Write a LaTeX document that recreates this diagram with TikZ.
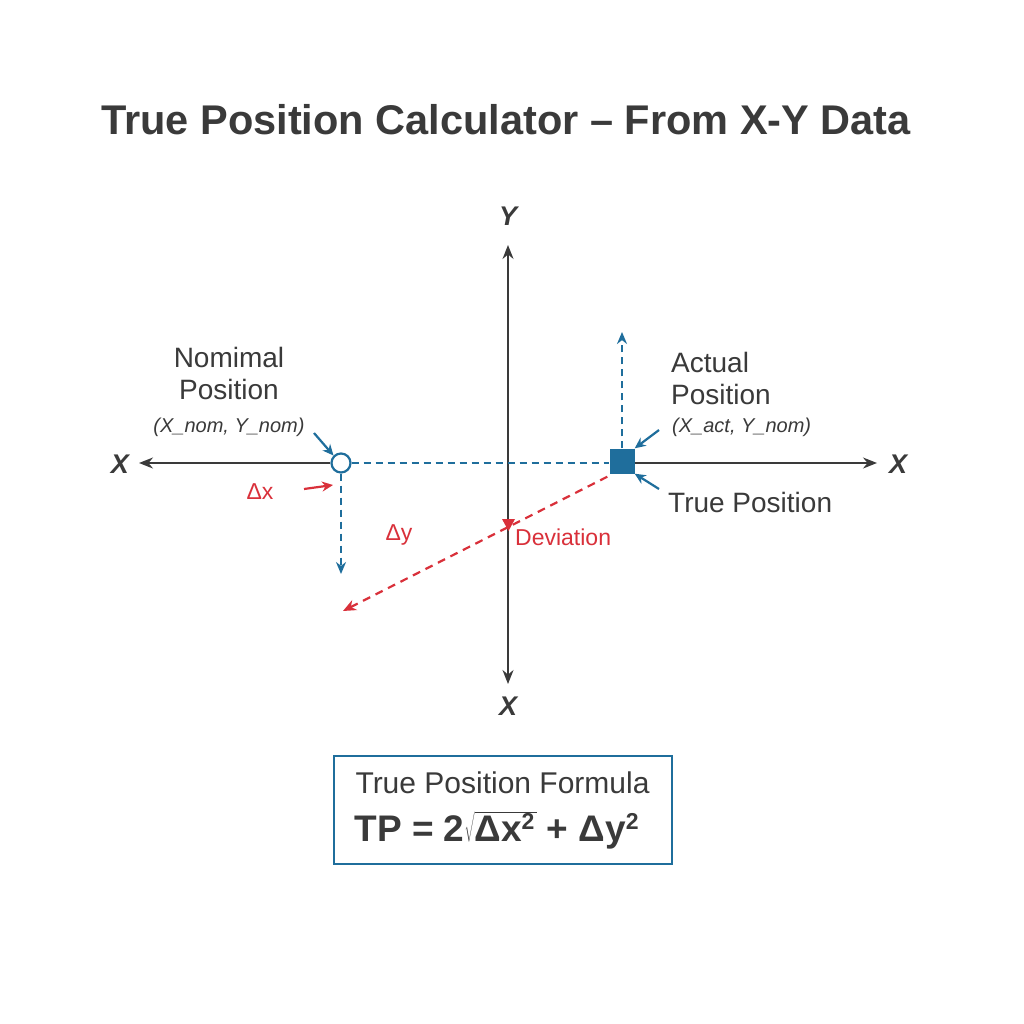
\documentclass[tikz,border=0pt]{standalone}
\usepackage{fontspec}
\setmainfont{Liberation Sans}
\usetikzlibrary{arrows.meta}
\definecolor{ink}{HTML}{3A3A3A}
\definecolor{tpblue}{HTML}{1F6E9C}
\definecolor{tpred}{HTML}{D9303A}
\newcommand{\fsz}[2]{\fontsize{#1}{#2}\selectfont}
\newcommand{\sqtwo}{\raisebox{12pt}{\fsz{23}{23}\bfseries 2}}
\tikzset{atip/.tip={Stealth[length=14pt,width=11pt]}}
\begin{document}
\begin{tikzpicture}[x=1pt,y=-1pt,
  axis/.style={draw=ink,line width=1.5pt},
  bdash/.style={draw=tpblue,line width=2.2pt,dash pattern=on 7pt off 5pt},
  rdash/.style={draw=tpred,line width=2.2pt,dash pattern=on 8pt off 6pt},
  ptr/.style={line width=2.2pt,-{Stealth[length=11pt,width=10pt]}},
  axlab/.style={text=ink,font=\fsz{27}{30}\bfseries\itshape,inner sep=0pt},
  lbl/.style={text=ink,font=\fsz{28}{32},inner sep=0pt,align=center},
  coord/.style={text=ink,font=\fsz{20}{24}\itshape,inner sep=0pt}]
\useasboundingbox[fill=white] (0,0) rectangle (1024,1024);
% title
\node[text=ink,font=\fsz{41.5}{46}\bfseries] (title) at (506,120) {True Position Calculator -- From X-Y Data};
% points
\node[circle,draw=tpblue,fill=white,line width=2.2pt,minimum size=19pt,inner sep=0pt] (nom) at (341,463) {};
\node[rectangle,fill=tpblue,minimum size=25pt,inner sep=0pt] (act) at (622,461) {};
% axes
\coordinate (xl) at (139,463);
\coordinate (xr) at (877,463);
\coordinate (yt) at (508,245);
\coordinate (yb) at (508,684);
\draw[axis,-{atip}] (nom.west) -- (xl);
\draw[axis,-{atip}] (act.east |- xr) -- (xr);
\draw[axis,{atip}-{atip}] (yt) -- (yb);
\node[axlab] (xlab1) at (120,464) {X};
\node[axlab] (xlab2) at (898,464) {X};
\node[axlab] (ylab) at (508,216) {Y};
\node[axlab] (xlab3) at (508,706) {X};
% dashed lines
\draw[bdash] (nom.east) -- (act.west |- nom.east);
\coordinate (up) at (622,332);
\coordinate (dn) at (341,574);
\draw[bdash,-{Stealth[length=12pt,width=10pt]}] (act.north) -- (up);
\draw[bdash,-{Stealth[length=12pt,width=10pt]}] (nom.south) -- (dn);
\coordinate (dv) at (343,611);
\draw[rdash,-{Stealth[length=13pt,width=11pt]}] (act.south west) ++(-2,3) -- (dv);
\fill[tpred] (502,519) -- (515,519) -- (508.5,531) -- cycle;
% labels
\node[lbl,text=tpred,font=\fsz{23}{26},anchor=west] (dev) at (515,537) {Deviation};
\node[lbl,text=tpred,font=\fsz{23}{26}] (dy) at (399,535) {Δy};
\node[lbl,text=tpred,font=\fsz{23}{26}] (dx) at (260,492) {Δx};
\coordinate (dxa) at (304,489);
\draw[ptr,tpred] (dxa) -- (333,485);
\node[lbl] (nomlab) at (229,373) {Nomimal\\Position};
\node[coord] (nomc) at (229,427) {(X\_nom, Y\_nom)};
\node[lbl,align=left,anchor=west] (actlab) at (671,378) {Actual\\Position};
\node[coord,anchor=west] (actc) at (672,427) {(X\_act, Y\_nom)};
\node[lbl,anchor=west] (tplab) at (668,502) {True Position};
\coordinate (p1) at (314,433);
\coordinate (p2) at (659,430);
\coordinate (p3) at (659,489);
\draw[ptr,tpblue] (p1) -- (nom.north west);
\draw[ptr,tpblue] (p2) -- (act.north east);
\draw[ptr,tpblue] (p3) -- (act.south east);
% formula box
\node[draw=tpblue,line width=2pt,minimum width=338pt,minimum height=108pt] (box) at (503,810) {};
\node[text=ink,font=\fsz{30}{34},anchor=west] (ftitle) at (352,783) {True Position Formula};
\node[text=ink,font=\fsz{37}{42}\bfseries,anchor=west] (formula) at (351,830)
  {TP = 2$\sqrt{\hbox{\fsz{37}{42}\bfseries Δx\sqtwo\kern2pt}}$ + Δy\sqtwo};
\end{tikzpicture}
\end{document}
